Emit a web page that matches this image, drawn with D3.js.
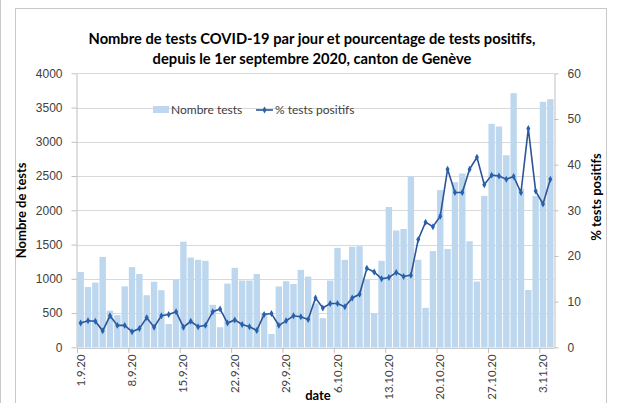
<!DOCTYPE html>
<html lang="fr">
<head>
  <meta charset="utf-8">
  <title>Tests COVID-19, canton de Genève</title>
  <script src="https://cdn.jsdelivr.net/npm/d3@7"></script>
  <style>
  body { margin: 0; background: #fff; }
  svg { font-family: Lato, "Open Sans", sans-serif; }
  .axis path, .axis line { stroke: #bfbfbf; }
  .axis text { fill: #404040; font-size: 12px; }
  .grid line { stroke: #d9d9d9; }
  </style>
</head>
<body>
<svg width="619" height="403"></svg>
<script>
// one entry per day, 1.9.20 -> 4.11.20
var dates = [
  "1.9.20","2.9.20","3.9.20","4.9.20","5.9.20","6.9.20","7.9.20","8.9.20","9.9.20","10.9.20",
  "11.9.20","12.9.20","13.9.20","14.9.20","15.9.20","16.9.20","17.9.20","18.9.20","19.9.20","20.9.20",
  "21.9.20","22.9.20","23.9.20","24.9.20","25.9.20","26.9.20","27.9.20","28.9.20","29.9.20","30.9.20",
  "1.10.20","2.10.20","3.10.20","4.10.20","5.10.20","6.10.20","7.10.20","8.10.20","9.10.20","10.10.20",
  "11.10.20","12.10.20","13.10.20","14.10.20","15.10.20","16.10.20","17.10.20","18.10.20","19.10.20","20.10.20",
  "21.10.20","22.10.20","23.10.20","24.10.20","25.10.20","26.10.20","27.10.20","28.10.20","29.10.20","30.10.20",
  "31.10.20","1.11.20","2.11.20","3.11.20","4.11.20"
];

var tests = [
  1100, 880, 945, 1320, 535, 470, 890, 1170, 1070, 760,
  957, 833, 341, 987, 1542, 1310, 1277, 1262, 620, 293,
  930, 1160, 975, 975, 1069, 497, 195, 889, 965, 925,
  1130, 1032, 640, 424, 974, 1452, 1276, 1468, 1476, 994,
  497, 1262, 2048, 1705, 1727, 2495, 1278, 576, 1405, 2295,
  1436, 2410, 2537, 1548, 959, 2210, 3262, 3223, 2804, 3710,
  2316, 836, 2210, 3584, 3622
];

var positifs = [
  5.3, 5.8, 5.7, 3.6, 6.9, 4.8, 4.8, 3.4, 4.1, 6.5,
  4.4, 6.9, 7.2, 7.8, 4.4, 5.7, 4.5, 4.8, 7.8, 8.4,
  5.3, 6.0, 5.0, 4.5, 3.7, 7.2, 7.4, 4.8, 5.8, 6.9,
  6.7, 6.1, 10.8, 8.6, 9.6, 9.6, 8.9, 10.8, 11.6, 17.3,
  16.5, 15.0, 15.3, 16.4, 15.5, 15.8, 23.6, 27.4, 26.4, 28.7,
  39.0, 33.9, 33.9, 39.0, 41.6, 35.6, 37.7, 37.5, 36.8, 37.4,
  33.9, 47.9, 34.2, 31.4, 36.8
];

var dateTicks = ["1.9.20","8.9.20","15.9.20","22.9.20","29.9.20","6.10.20","13.10.20","20.10.20","27.10.20","3.11.20"];
var leftTicks = [0, 500, 1000, 1500, 2000, 2500, 3000, 3500, 4000];
var rightTicks = [0, 10, 20, 30, 40, 50, 60];

var svg = d3.select("svg"),
    plot = {left: 77, right: 554, top: 73.3, bottom: 347.3};

var data = dates.map(function(d, i) { return {date: d, tests: tests[i], pct: positifs[i]}; });

var x = d3.scaleBand()
    .domain(dates)
    .range([plot.left, plot.right])
    .paddingInner(0.13)
    .paddingOuter(0.065);

// category boundaries, for the tick marks between days
var xb = d3.scaleLinear().domain([0, dates.length]).range([plot.left, plot.right]);

var y = d3.scaleLinear().domain([0, 4000]).range([plot.bottom, plot.top]);
var y2 = d3.scaleLinear().domain([0, 60]).range([plot.bottom, plot.top]);

// outer frame
svg.append("rect")
    .attr("x", 15.5).attr("y", 8.5)
    .attr("width", 591).attr("height", 400)
    .attr("fill", "none").attr("stroke", "#c8c8c8");
svg.append("line")
    .attr("x1", 0.5).attr("x2", 0.5).attr("y1", 0).attr("y2", 403)
    .attr("stroke", "#c8c8c8");

// title
var title = svg.append("text")
    .attr("text-anchor", "middle")
    .attr("font-weight", "bold")
    .style("font-size", "14.7px")
    .attr("fill", "#000");
title.append("tspan").attr("x", 312).attr("y", 44)
    .text("Nombre de tests COVID-19 par jour et pourcentage de tests positifs,");
title.append("tspan").attr("x", 312).attr("y", 64)
    .text("depuis le 1er septembre 2020, canton de Genève");

// gridlines
svg.append("g")
    .attr("class", "grid")
  .selectAll("line")
  .data(leftTicks.slice(1))
  .enter().append("line")
    .attr("x1", plot.left).attr("x2", plot.right)
    .attr("y1", function(d) { return Math.round(y(d)) + 0.5; })
    .attr("y2", function(d) { return Math.round(y(d)) + 0.5; });

// bars
svg.append("g")
  .selectAll("rect")
  .data(data)
  .enter().append("rect")
    .attr("x", function(d) { return x(d.date); })
    .attr("y", function(d) { return y(d.tests); })
    .attr("width", x.bandwidth())
    .attr("height", function(d) { return y(0) - y(d.tests); })
    .attr("fill", "#bdd7ee");

// % line
var line = d3.line()
    .x(function(d) { return x(d.date) + x.bandwidth() / 2; })
    .y(function(d) { return y2(d.pct); });

svg.append("path")
    .datum(data)
    .attr("fill", "none")
    .attr("stroke", "#2f5597")
    .attr("stroke-width", 1.6)
    .attr("d", line);

var diamond = d3.symbol().type(d3.symbolDiamond).size(14);
svg.append("g")
  .selectAll("path")
  .data(data)
  .enter().append("path")
    .attr("transform", function(d) { return "translate(" + (x(d.date) + x.bandwidth() / 2) + "," + y2(d.pct) + ")"; })
    .attr("d", diamond)
    .attr("fill", "#2462b0");

// left axis
svg.append("g")
    .attr("class", "axis")
    .attr("transform", "translate(" + (plot.left - 0.5) + ",0)")
    .call(d3.axisLeft(y).tickValues(leftTicks).tickFormat(d3.format("d"))
      .tickSize(5).tickSizeOuter(0).tickPadding(9));

// right axis
svg.append("g")
    .attr("class", "axis")
    .attr("transform", "translate(" + (plot.right + 0.5) + ",0)")
    .call(d3.axisRight(y2).tickValues(rightTicks).tickSize(4).tickSizeOuter(0).tickPadding(9));

// bottom axis: tick marks on category boundaries every 7 days
svg.append("g")
    .attr("class", "axis")
    .attr("transform", "translate(0," + (plot.bottom + 0.5) + ")")
    .call(d3.axisBottom(xb).tickValues(dateTicks.map(function(d) { return dates.indexOf(d); }))
      .tickSize(5).tickSizeOuter(0).tickFormat(""));

// date labels centred on their day
svg.append("g")
    .attr("class", "axis")
  .selectAll("text")
  .data(dateTicks)
  .enter().append("text")
    .attr("transform", function(d) { return "translate(" + (x(d) + x.bandwidth() / 2 + 4) + "," + (plot.bottom + 7) + ") rotate(-90)"; })
    .attr("text-anchor", "end")
    .style("font-size", "11.5px")
    .text(function(d) { return d; });

// axis titles
svg.append("text")
    .attr("transform", "translate(26," + ((plot.top + plot.bottom) / 2) + ") rotate(-90)")
    .attr("text-anchor", "middle")
    .attr("font-weight", "bold")
    .style("font-size", "13px")
    .text("Nombre de tests");

svg.append("text")
    .attr("transform", "translate(601,197) rotate(-90)")
    .attr("text-anchor", "middle")
    .attr("font-weight", "bold")
    .style("font-size", "13px")
    .text("% tests positifs");

svg.append("text")
    .attr("x", 318).attr("y", 400)
    .attr("text-anchor", "middle")
    .attr("font-weight", "bold")
    .style("font-size", "13px")
    .text("date");

// legend
var legend = svg.append("g").style("font-size", "12px").attr("fill", "#404040");
legend.append("rect")
    .attr("x", 153).attr("y", 106).attr("width", 16).attr("height", 7)
    .attr("fill", "#bdd7ee");
legend.append("text").attr("x", 171).attr("y", 114).text("Nombre tests");
legend.append("line")
    .attr("x1", 256).attr("x2", 273).attr("y1", 110).attr("y2", 110)
    .attr("stroke", "#2f5597").attr("stroke-width", 1.6);
legend.append("path")
    .attr("transform", "translate(264.5,110)")
    .attr("d", diamond)
    .attr("fill", "#2462b0");
legend.append("text").attr("x", 275).attr("y", 114).text("% tests positifs");
</script>
</body>
</html>
